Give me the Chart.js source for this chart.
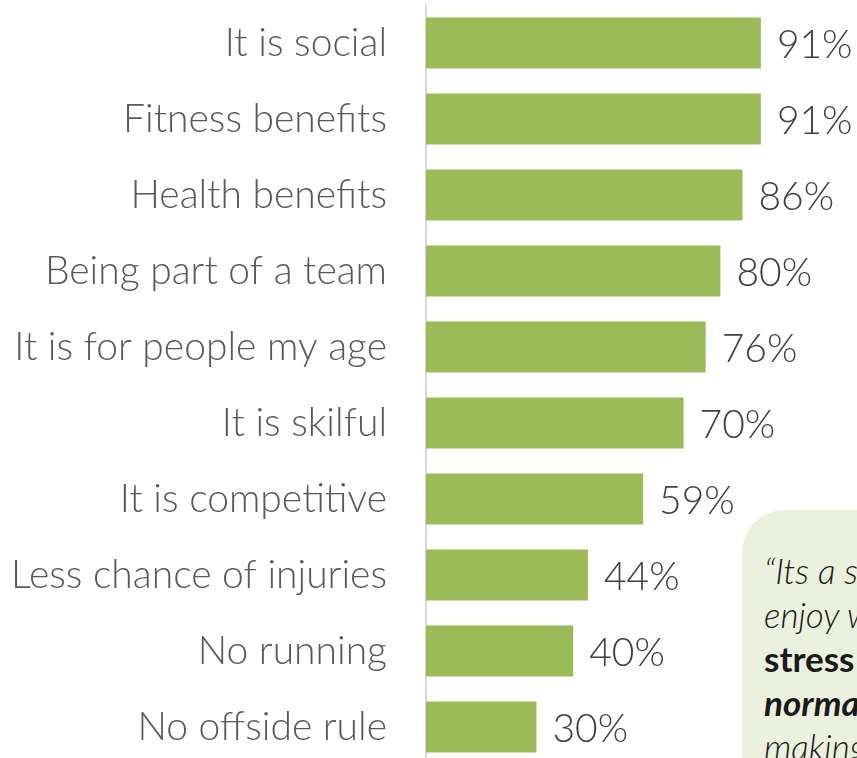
<!DOCTYPE html>
<html>
<head>
<meta charset="utf-8">
<script src="https://cdn.jsdelivr.net/npm/chart.js@4/dist/chart.umd.min.js"></script>
<style>
  html, body { margin: 0; padding: 0; background: #fff; overflow: hidden; }
  #wrap { position: relative; width: 857px; height: 758px; overflow: hidden; }
  #box { position: absolute; left: 0; top: 0; width: 857px; height: 765px; }
  .quote {
    position: absolute; left: 742px; top: 510px; width: 260px; height: 300px;
    background: #ebf1de; border-top-left-radius: 42px;
    font-family: Lato, sans-serif; font-size: 35px; line-height: 44px;
    color: #1a1a1a; padding: 38px 0 0 22px; box-sizing: border-box; white-space: nowrap;
  }
  .quote .it { font-style: italic; font-weight: 300; }
  .quote .b { font-weight: 700; }
  .quote .bi { font-weight: 700; font-style: italic; }
</style>
</head>
<body>
<div id="wrap">
  <div id="box"><canvas id="reasons"></canvas></div>
  <div class="quote">
    <div class="it">“Its a sport I</div>
    <div class="it">enjoy with</div>
    <div class="b">stress</div>
    <div class="bi">normal</div>
    <div class="it">making</div>
  </div>
</div>
<script>
  const reasons = [
    'It is social',
    'Fitness benefits',
    'Health benefits',
    'Being part of a team',
    'It is for people my age',
    'It is skilful',
    'It is competitive',
    'Less chance of injuries',
    'No running',
    'No offside rule'
  ];
  const shares = [91, 91, 86, 80, 76, 70, 59, 44, 40, 30];

  const FONT = 'Lato';

  // percentage text just past the end of each bar
  const valueLabels = {
    id: 'valueLabels',
    afterDatasetsDraw(chart) {
      const ctx = chart.ctx;
      const meta = chart.getDatasetMeta(0);
      ctx.save();
      ctx.font = '300 39px ' + FONT;
      ctx.fillStyle = '#404040';
      ctx.textAlign = 'left';
      ctx.textBaseline = 'middle';
      meta.data.forEach((bar, i) => {
        ctx.fillText(shares[i] + '%', bar.x + 16, bar.y + 2);
      });
      ctx.restore();
    }
  };

  new Chart(document.getElementById('reasons'), {
    type: 'bar',
    data: {
      labels: reasons,
      datasets: [{
        data: shares,
        backgroundColor: '#9bbb59',
        borderWidth: 0,
        barPercentage: 0.67,
        categoryPercentage: 1
      }]
    },
    options: {
      indexAxis: 'y',
      responsive: true,
      maintainAspectRatio: false,
      animation: false,
      layout: { padding: { top: 5, right: 63, bottom: 0, left: 0 } },
      plugins: {
        legend: { display: false },
        tooltip: { enabled: false }
      },
      scales: {
        x: {
          display: false,
          min: 0,
          max: 100
        },
        y: {
          // fixed label column, no extra room above/below the bars
          afterFit(scale) {
            scale.width = 426;
            scale.paddingTop = 0;
            scale.paddingBottom = 0;
          },
          grid: { display: false, drawTicks: false },
          border: { display: true, color: '#d9d9d9', width: 2 },
          ticks: {
            color: '#595959',
            padding: 39,
            font: { family: FONT, size: 39, weight: 300 }
          }
        }
      }
    },
    plugins: [valueLabels]
  });
</script>
</body>
</html>
